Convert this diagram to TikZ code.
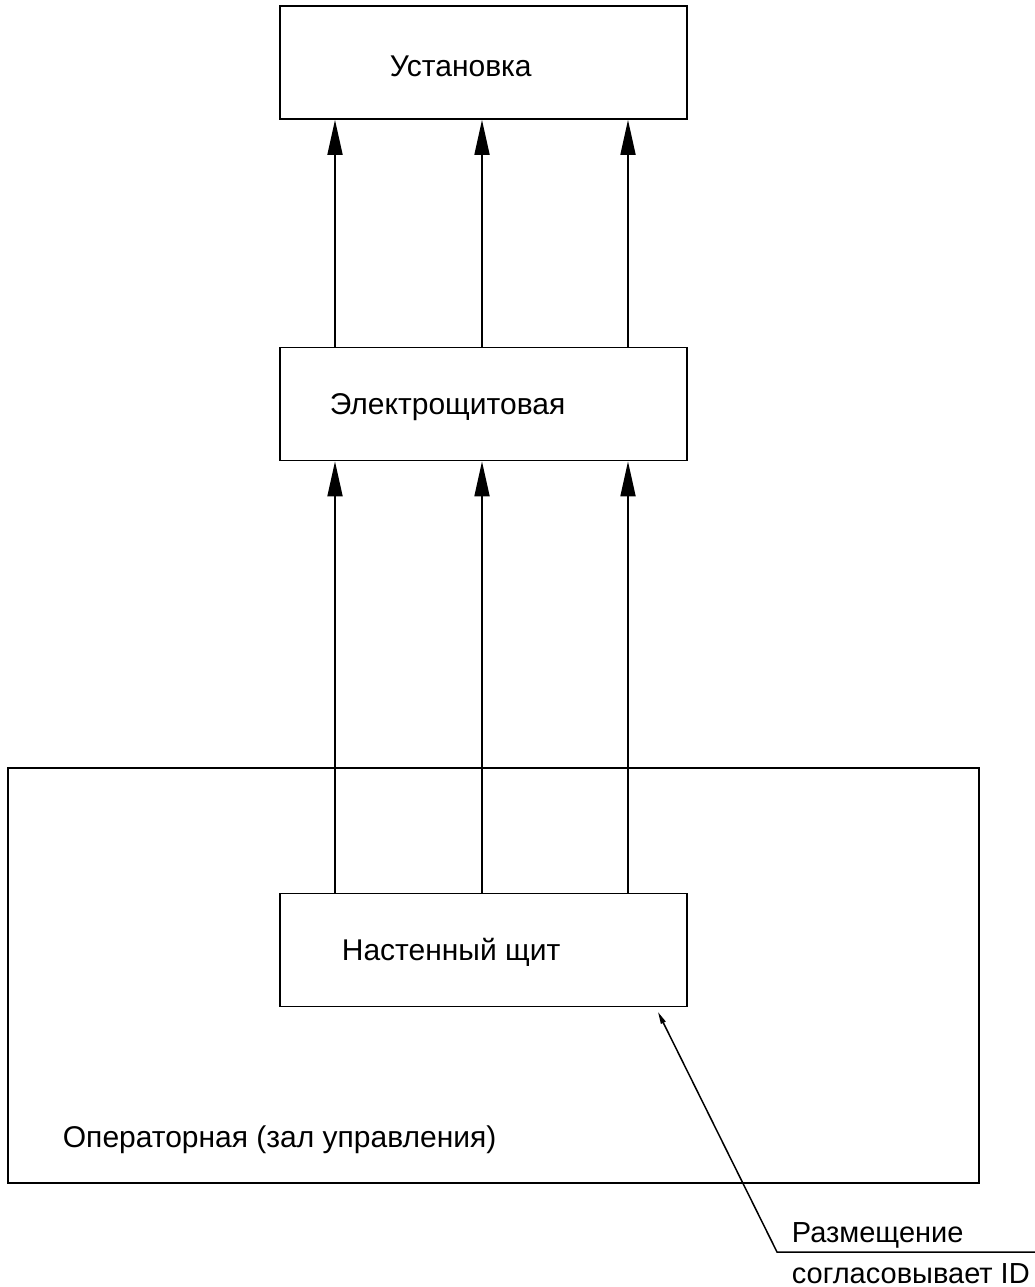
\documentclass[tikz,border=0pt]{standalone}
\usepackage{fontspec}
\setmainfont{Liberation Sans}
\usetikzlibrary{arrows.meta}
\begin{document}
\begin{tikzpicture}[x=1pt,y=-1pt,
  line width=1.8pt,
  boxnode/.style={draw,rectangle,inner sep=0pt,minimum width=407pt,minimum height=113pt},
  lbl/.style={anchor=base west,inner sep=0pt,font=\fontsize{30}{36}\selectfont},
  clbl/.style={anchor=base west,inner sep=0pt,font=\fontsize{29}{35}\selectfont},
  arr/.style={-{Triangle[length=35pt,width=15pt]}},
  smallarr/.style={line width=1.5pt,-{Triangle[length=12pt,width=5pt]}}]
\useasboundingbox (0,0) rectangle (1035,1287);
\fill[white] (0,0) rectangle (1035,1287);
% boxes
\node[boxnode] (ust) at (483.5,62.5) {};
\node[boxnode] (el) at (483.5,404) {};
\node[draw,rectangle,inner sep=0pt,minimum width=971pt,minimum height=415pt] (op) at (493.5,975.5) {};
\node[boxnode,fill=white] (wall) at (483.5,950) {};
% labels
\node[lbl] (tust) at (389,77) {Установка};
\node[lbl] (tel) at (329,414) {Электрощитовая};
\node[lbl] (twall) at (341,960) {Настенный щит};
\node[lbl] (top) at (62,1147) {Операторная (зал управления)};
\node[clbl] (tr1) at (791,1242) {Размещение};
\node[clbl] (tr2) at (791,1283) {согласовывает ID};
% columns
\coordinate (c1) at (335,0);
\coordinate (c2) at (482,0);
\coordinate (c3) at (628,0);
\foreach \c in {c1,c2,c3}{
  \draw[arr] (el.north -| \c) -- (ust.south -| \c);
  \draw[arr] (wall.north -| \c) -- (el.south -| \c);
}
% callout
\coordinate (tip) at (658,1012);
\coordinate (bend) at (777,1252);
\coordinate (lend) at (1035,1252);
\draw[smallarr] (lend) -- (bend) -- (tip);
\end{tikzpicture}
\end{document}
